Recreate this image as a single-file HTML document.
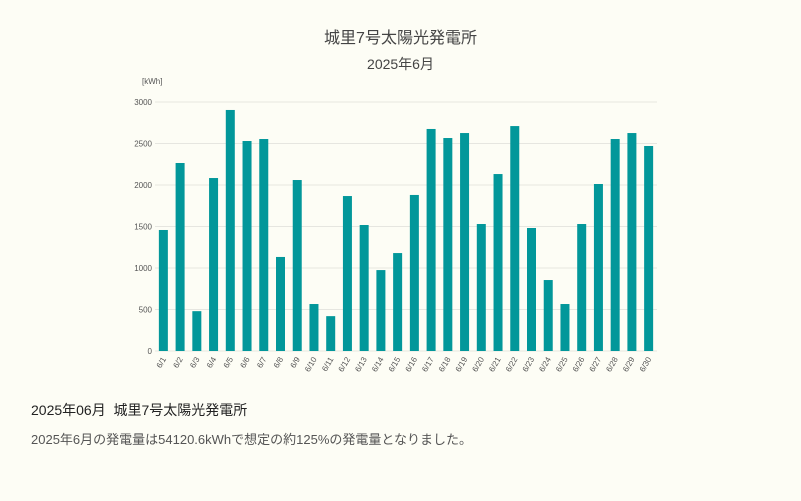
<!DOCTYPE html>
<html><head><meta charset="utf-8"><style>
body{margin:0;background:#fdfdf5;font-family:"Liberation Sans","Noto Sans CJK JP",sans-serif;}
#wrap{position:relative;width:801px;height:501px;overflow:hidden;}
.t{position:absolute;color:#444;}
</style></head><body><div id="wrap">
<div class="t" style="left:0;width:801px;top:24px;text-align:center;font-size:16px;">城里7号太陽光発電所</div>
<div class="t" style="left:0;width:801px;top:54px;text-align:center;font-size:14px;">2025年6月</div>
<svg id="c" width="801" height="400" style="position:absolute;left:0;top:0"></svg>
<div class="t" style="left:31px;top:400px;font-size:14px;color:#222;">2025年06月&nbsp;&nbsp;城里7号太陽光発電所</div>
<div class="t" style="left:31px;top:429px;font-size:13px;color:#555;">2025年6月の発電量は54120.6kWhで想定の約125%の発電量となりました。</div>
</div>
<script>
const categories=["6/1","6/2","6/3","6/4","6/5","6/6","6/7","6/8","6/9","6/10","6/11","6/12","6/13","6/14","6/15","6/16","6/17","6/18","6/19","6/20","6/21","6/22","6/23","6/24","6/25","6/26","6/27","6/28","6/29","6/30"];
const values=[1458,2265,480,2084,2904,2530,2554,1133,2060,566,420,1867,1518,975,1180,1880,2675,2566,2626,1530,2132,2710,1482,855,566,1530,2012,2554,2626,2470];
const ticks=[0,500,1000,1500,2000,2500,3000];
const ns="http://www.w3.org/2000/svg",svg=document.getElementById('c');
const x0=155,x1=657,y0=351,y1=102,yMax=3000;
const band=(x1-x0)/categories.length;
const y=v=>y0-(v/yMax)*(y0-y1);
function mk(t,a){const e=document.createElementNS(ns,t);for(const k in a)e.setAttribute(k,a[k]);svg.appendChild(e);return e;}
ticks.forEach(v=>{
 const l=mk('line',{x1:x0,x2:x1,y1:y(v),y2:y(v),stroke:'#e6e6e0','stroke-width':1});
 
 
 const t=mk('text',{x:x0-3,y:y(v)+3,'text-anchor':'end','font-size':8,fill:'#555'});
 t.textContent=v;
 
 
});
const u=mk('text',{x:142,y:84,'font-size':8,fill:'#555'});u.textContent='[kWh]';


categories.forEach((c,i)=>{
 const cx=x0+band*(i+0.5);
 const r=mk('rect',{x:cx-4.5,y:y(values[i]),width:9,height:y0-y(values[i]),fill:'#02979a'});
 
 
 const t=mk('text',{x:cx+3,y:y0+8,'text-anchor':'end','font-size':8,fill:'#555',transform:`rotate(-60 ${cx+3} ${y0+8})`});
 t.textContent=c;
 
 
});
</script></body></html>
